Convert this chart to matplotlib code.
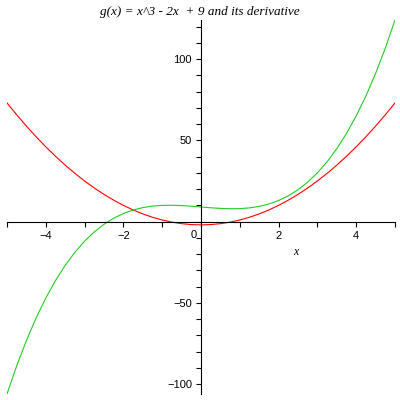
import matplotlib
matplotlib.use("Agg")
import matplotlib.pyplot as plt
from matplotlib.ticker import MultipleLocator, FixedLocator

xs = [-5.0, -4.75, -4.5, -4.25, -4.0, -3.75, -3.5, -3.25, -3.0, -2.75, -2.5,
      -2.25, -2.0, -1.75, -1.5, -1.25, -1.0, -0.75, -0.5, -0.25, 0.0,
      0.25, 0.5, 0.75, 1.0, 1.25, 1.5, 1.75, 2.0, 2.25, 2.5,
      2.75, 3.0, 3.25, 3.5, 3.75, 4.0, 4.25, 4.5, 4.75, 5.0]

g_vals = [-106.0, -88.67, -73.13, -59.27, -47.0, -36.23, -26.88, -18.83, -12.0, -6.30, -1.63,
          2.11, 5.0, 7.14, 8.63, 9.55, 10.0, 10.08, 9.88, 9.48, 9.0,
          8.52, 8.13, 7.92, 8.0, 8.45, 9.38, 10.86, 13.0, 15.89, 19.63,
          24.30, 30.0, 36.83, 44.88, 54.23, 65.0, 77.27, 91.13, 106.67, 124.0]

dg_vals = [73.0, 65.69, 58.75, 52.19, 46.0, 40.19, 34.75, 29.69, 25.0, 20.69, 16.75,
           13.19, 10.0, 7.19, 4.75, 2.69, 1.0, -0.31, -1.25, -1.81, -2.0,
           -1.81, -1.25, -0.31, 1.0, 2.69, 4.75, 7.19, 10.0, 13.19, 16.75,
           20.69, 25.0, 29.69, 34.75, 40.19, 46.0, 52.19, 58.75, 65.69, 73.0]

x_labels = [-4, -2, 2, 4]
y_labels = [-100, -50, 50, 100]

plt.rcParams["font.family"] = ["Liberation Sans", "DejaVu Sans"]

fig = plt.figure(figsize=(4, 4), dpi=100)
ax = fig.add_axes([0.0175, 0.015, 0.97, 0.935])

ax.plot(xs, dg_vals, color="#ff0000", lw=0.8)
ax.plot(xs, g_vals, color="#22cc22", lw=0.8)

ax.set_xlim(-5, 5)
ax.set_ylim(-106, 124)

for s in ["top", "right"]:
    ax.spines[s].set_visible(False)
ax.spines["left"].set_position(("data", 0))
ax.spines["bottom"].set_position(("data", 0))
ax.spines["left"].set_linewidth(0.8)
ax.spines["bottom"].set_linewidth(0.8)

ax.xaxis.set_major_locator(FixedLocator(x_labels))
ax.xaxis.set_minor_locator(MultipleLocator(1))
ax.yaxis.set_major_locator(FixedLocator(y_labels))
ax.yaxis.set_minor_locator(MultipleLocator(10))
ax.tick_params(which="both", direction="out", length=3.5, width=0.8, labelsize=8)
ax.tick_params(axis="y", pad=3)

ax.text(-0.12, -5, "0", fontsize=8, ha="right", va="top")
ax.text(2.45, -18.5, "x", fontsize=8.5, family="Liberation Serif", style="italic",
        ha="center", va="center")

fig.text(0.5, 0.97, "g(x) = x^3 - 2x  + 9 and its derivative", ha="center", va="center",
         fontsize=9.5, family="Liberation Serif", style="italic")

fig.savefig("out.png", dpi=100)
